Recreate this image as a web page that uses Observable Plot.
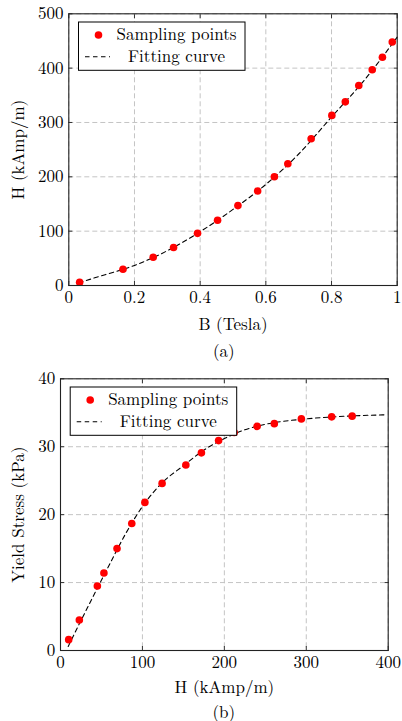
<!DOCTYPE html>
<html><head><meta charset="utf-8">
<script src="https://cdn.jsdelivr.net/npm/d3@7"></script>
<script src="https://cdn.jsdelivr.net/npm/@observablehq/plot@0.6"></script>
<style>
body{margin:0;background:#fff;font-family:"Latin Modern Roman","Liberation Serif",serif;}
#wrap{position:relative;width:402px;height:721px;overflow:hidden;background:#fff;}
.panel{position:absolute;left:0;}
.cap{position:absolute;left:0;width:402px;font-size:17px;line-height:1;color:#000;font-family:"Latin Modern Roman","Liberation Serif",serif;}
.cap span{position:absolute;transform:translateX(-50%);white-space:nowrap;}
</style></head><body><div id="wrap"></div>
<script>
// ---- Panel (a): B–H curve ----
const aSampleB = [0.033, 0.165, 0.257, 0.319, 0.392, 0.453, 0.515, 0.575, 0.626, 0.667, 0.738, 0.801, 0.842, 0.883, 0.924, 0.955, 0.985];
const aSampleH = [6, 30, 52, 70, 96, 120, 147, 174, 200, 224, 270, 313, 338, 368, 397, 420, 448];
const aFitB = [0.03, 0.1, 0.2, 0.3, 0.4, 0.5, 0.6, 0.7, 0.8, 0.9, 1.0];
const aFitH = [5, 18, 37, 64, 99, 140, 186, 242, 310, 378, 457];
const aXTicks = [0, 0.2, 0.4, 0.6, 0.8, 1];
const aYTicks = [0, 100, 200, 300, 400, 500];

// ---- Panel (b): H–yield stress curve ----
const bSampleH = [10, 23, 45, 53, 69, 87, 103, 124, 153, 172, 193, 212, 240, 261, 294, 331, 356];
const bSampleS = [1.6, 4.5, 9.5, 11.4, 15.0, 18.7, 21.8, 24.6, 27.3, 29.1, 30.9, 32.1, 33.0, 33.4, 34.1, 34.4, 34.5];
const bFitH = [9.4, 20, 40, 60, 80, 100, 125, 150, 175, 200, 225, 250, 300, 350, 397];
const bFitS = [0.6, 3.2, 8.0, 12.7, 17.3, 21.2, 24.8, 27.2, 29.5, 31.2, 32.5, 33.3, 34.1, 34.5, 34.7];
const bXTicks = [0, 100, 200, 300, 400];
const bYTicks = [0, 10, 20, 30, 40];

const legendLabels = ["Sampling points", "Fitting curve"];
const captions = ["(a)", "(b)"];

const FONT = '"Latin Modern Roman", "Liberation Serif", serif';
const FS = 17;

function panel(o) {
  const samples = o.sx.map((x, i) => ({x, y: o.sy[i]}));
  const fit = o.fx.map((x, i) => ({x, y: o.fy[i]}));
  const gridStyle = {stroke: "#c4c4c4", strokeOpacity: 1, strokeWidth: 1, strokeDasharray: "5,3"};
  const fmt = d => String(d);
  const svg = Plot.plot({
    width: 402, height: 340,
    marginTop: 13.3, marginBottom: 55, marginLeft: o.ml, marginRight: o.mr,
    style: {fontFamily: FONT, fontSize: FS + "px", background: "#fff", color: "#000", overflow: "visible"},
    x: {domain: o.xd},
    y: {domain: o.yd},
    marks: [
      Plot.gridX(o.xt, gridStyle),
      Plot.gridY(o.yt, gridStyle),
      Plot.axisX(o.xt, {anchor: "bottom", tickSize: 0, tickPadding: 5.4, tickFormat: fmt, label: o.xl, labelAnchor: "center", labelOffset: o.xlo, labelArrow: "none"}),
      Plot.axisX(o.xt, {anchor: "bottom", tickSize: -4, fill: "none", label: null, stroke: "#333"}),
      Plot.axisX(o.xt, {anchor: "top", tickSize: -4, fill: "none", label: null, stroke: "#333"}),
      Plot.axisY(o.yt, {anchor: "left", tickSize: 0, tickPadding: 5.3, tickFormat: fmt, label: o.yl, labelAnchor: "center", labelOffset: o.ylo, labelArrow: "none"}),
      Plot.axisY(o.yt, {anchor: "left", tickSize: -4, fill: "none", label: null, stroke: "#333"}),
      Plot.axisY(o.yt, {anchor: "right", tickSize: -4, fill: "none", label: null, stroke: "#333"}),
      Plot.line(fit, {x: "x", y: "y", stroke: "#000", strokeWidth: 1.1, strokeDasharray: "4.5,3.5", curve: "monotone-x"}),
      Plot.dot(samples, {x: "x", y: "y", fill: "#ff0000", r: 3.8}),
      Plot.frame({stroke: "#222", strokeWidth: 1.1})
    ]
  });
  // legend (decoration, drawn on top)
  const s = d3.select(svg);
  const lx = o.ml + 10.2, ly = 22, lw = 166.5, lh = 48.3;
  const g = s.append("g");
  g.append("rect").attr("x", lx).attr("y", ly).attr("width", lw).attr("height", lh)
    .attr("fill", "#fff").attr("stroke", "#000").attr("stroke-width", 1);
  g.append("circle").attr("cx", lx + 20).attr("cy", ly + 13).attr("r", 3.8).attr("fill", "#ff0000");
  g.append("line").attr("x1", lx + 6.5).attr("x2", lx + 31.5).attr("y1", ly + 34.8).attr("y2", ly + 34.8)
    .attr("stroke", "#000").attr("stroke-width", 1.1).attr("stroke-dasharray", "4.5,3.5");
  legendLabels.forEach((t, i) => {
    g.append("text").attr("x", lx + 98).attr("y", ly + (i ? 34.8 : 13)).attr("dy", "0.32em")
      .attr("text-anchor", "middle").attr("fill", "#000").text(t);
  });
  // force the serif face on every text node
  svg.querySelectorAll("text, tspan").forEach(t => {
    t.style.setProperty("font-family", FONT, "important");
    t.style.setProperty("font-size", FS + "px", "important");
  });
  return svg;
}

const wrap = document.getElementById("wrap");

const pa = panel({sx: aSampleB, sy: aSampleH, fx: aFitB, fy: aFitH, xd: [0, 1], yd: [0, 500], xt: aXTicks, yt: aYTicks,
  xl: "B (Tesla)", yl: "H (kAmp/m)", ml: 68.3, mr: 5.3, xlo: 44.7, ylo: 57});
const da = document.createElement("div"); da.className = "panel"; da.style.top = "0px"; da.appendChild(pa); wrap.appendChild(da);

const pb = panel({sx: bSampleH, sy: bSampleS, fx: bFitH, fy: bFitS, xd: [0, 400], yd: [0, 40], xt: bXTicks, yt: bYTicks,
  xl: "H (kAmp/m)", yl: "Yield Stress (kPa)", ml: 60, mr: 14.3, xlo: 42, ylo: 49});
const db = document.createElement("div"); db.className = "panel"; db.style.top = "365px"; db.appendChild(pb); wrap.appendChild(db);

[[captions[0], 223.8, 342], [captions[1], 223.8, 702.5]].forEach(([t, x, y]) => {
  const c = document.createElement("div"); c.className = "cap"; c.style.top = y + "px";
  const sp = document.createElement("span"); sp.style.left = x + "px"; sp.textContent = t; c.appendChild(sp);
  wrap.appendChild(c);
});
</script>
</body></html>
